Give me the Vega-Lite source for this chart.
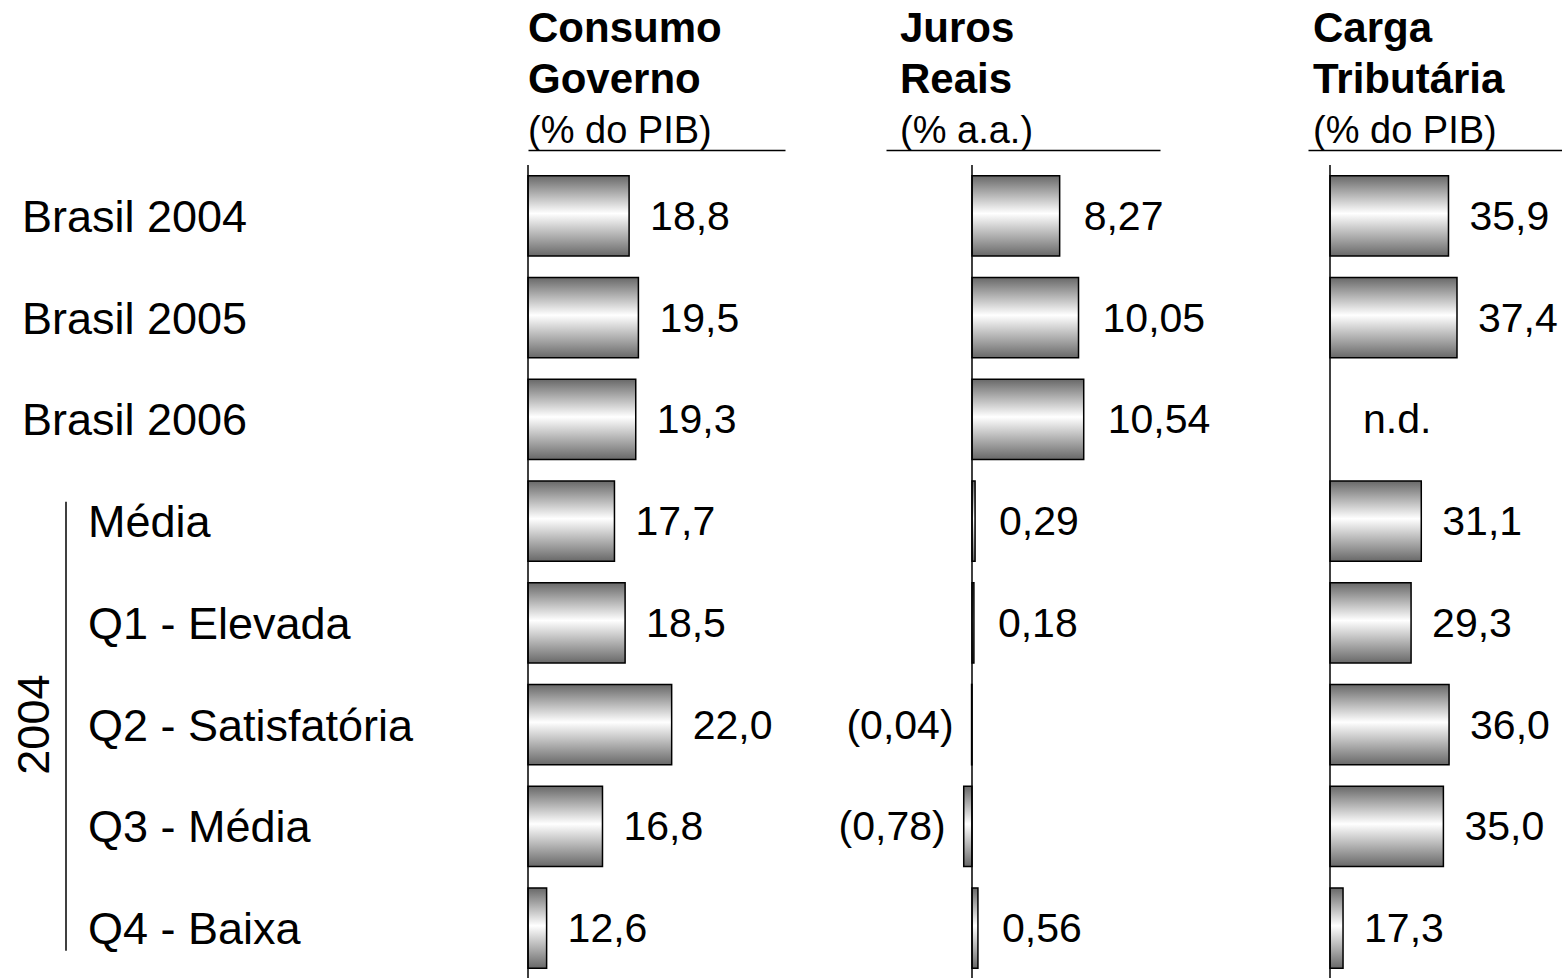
{
  "$schema": "https://vega.github.io/schema/vega-lite/v6.json",
  "background": "white",
  "padding": {"top": 8, "left": 0, "right": 0, "bottom": 0},
  "datasets": {
    "tabela": [
      {"rotulo": "Brasil 2004", "grupo": "Brasil", "consumo": 18.8, "juros": 8.27, "carga": 35.9},
      {"rotulo": "Brasil 2005", "grupo": "Brasil", "consumo": 19.5, "juros": 10.05, "carga": 37.4},
      {"rotulo": "Brasil 2006", "grupo": "Brasil", "consumo": 19.3, "juros": 10.54, "carga": null},
      {"rotulo": "Média", "grupo": "2004", "consumo": 17.7, "juros": 0.29, "carga": 31.1},
      {"rotulo": "Q1 - Elevada", "grupo": "2004", "consumo": 18.5, "juros": 0.18, "carga": 29.3},
      {"rotulo": "Q2 - Satisfatória", "grupo": "2004", "consumo": 22.0, "juros": -0.04, "carga": 36.0},
      {"rotulo": "Q3 - Média", "grupo": "2004", "consumo": 16.8, "juros": -0.78, "carga": 35.0},
      {"rotulo": "Q4 - Baixa", "grupo": "2004", "consumo": 12.6, "juros": 0.56, "carga": 17.3}
    ]
  },
  "spacing": 0,
  "bounds": "flush",
  "hconcat": [
    {
      "width": 528,
      "height": 814,
      "data": {"name": "tabela"},
      "layer": [
        {
          "transform": [{"filter": "datum.grupo === 'Brasil'"}],
          "mark": {"type": "text", "align": "left", "baseline": "middle", "fontSize": 45, "dy": 2},
          "encoding": {
            "x": {"datum": 22, "type": "quantitative", "scale": {"domain": [0, 528], "nice": false, "zero": false}, "axis": null},
            "y": {"field": "rotulo", "type": "nominal", "axis": null,
                  "scale": {"domain": ["Brasil 2004", "Brasil 2005", "Brasil 2006", "Média", "Q1 - Elevada", "Q2 - Satisfatória", "Q3 - Média", "Q4 - Baixa"], "paddingInner": 0.21, "paddingOuter": 0.105}},
            "text": {"field": "rotulo"}
          }
        },
        {
          "transform": [{"filter": "datum.grupo === '2004'"}],
          "mark": {"type": "text", "align": "left", "baseline": "middle", "fontSize": 45, "dy": 2},
          "encoding": {
            "x": {"datum": 88, "type": "quantitative"},
            "y": {"field": "rotulo", "type": "nominal"},
            "text": {"field": "rotulo"}
          }
        },
        {
          "data": {"values": [{"ano": "2004"}]},
          "mark": {"type": "rule", "stroke": "black", "strokeWidth": 1.5},
          "encoding": {
            "x": {"datum": 66, "type": "quantitative"},
            "y": {"datum": "Média", "type": "nominal", "bandPosition": 0.26},
            "y2": {"datum": "Q4 - Baixa", "bandPosition": 0.78}
          }
        },
        {
          "data": {"values": [{"ano": "2004"}]},
          "mark": {"type": "text", "angle": 270, "align": "center", "baseline": "middle", "fontSize": 45},
          "encoding": {
            "x": {"datum": 35, "type": "quantitative"},
            "y": {"datum": "Q2 - Satisfatória", "type": "nominal"},
            "text": {"field": "ano"}
          }
        }
      ]
    },
    {
      "width": 257,
      "height": 814,
      "title": {"text": ["Consumo", "Governo"], "subtitle": "(% do PIB)", "dx": 0},
      "data": {"name": "tabela"},
      "layer": [
        {
          "mark": {"type": "bar", "stroke": "black", "strokeWidth": 1.5,
                   "fill": {"gradient": "linear", "x1": 0, "y1": 0, "x2": 0, "y2": 1,
                            "stops": [{"offset": 0, "color": "#686868"}, {"offset": 0.47, "color": "#ffffff"}, {"offset": 1, "color": "#686868"}]}},
          "encoding": {
            "x": {"field": "consumo", "type": "quantitative",
                  "scale": {"domain": [11.2, 30.52], "nice": false, "zero": false},
                  "axis": {"orient": "top", "offset": 15, "labels": false, "ticks": false, "grid": false, "title": null, "domainColor": "black", "domainWidth": 1.5}},
            "x2": {"datum": 11.2},
            "y": {"field": "rotulo", "type": "nominal", "axis": null,
                  "scale": {"domain": ["Brasil 2004", "Brasil 2005", "Brasil 2006", "Média", "Q1 - Elevada", "Q2 - Satisfatória", "Q3 - Média", "Q4 - Baixa"], "paddingInner": 0.21, "paddingOuter": 0.105}}
          }
        },
        {
          "mark": {"type": "text", "align": "left", "baseline": "middle", "fontSize": 41, "dx": 21, "dy": 2},
          "encoding": {
            "x": {"field": "consumo", "type": "quantitative"},
            "y": {"field": "rotulo", "type": "nominal"},
            "text": {"field": "consumo", "type": "quantitative", "format": ".1f"}
          }
        },
        {
          "data": {"values": [{"base": 11.2}]},
          "mark": {"type": "rule", "stroke": "black", "strokeWidth": 1.5},
          "encoding": {"x": {"field": "base", "type": "quantitative"}}
        }
      ]
    },
    {
      "width": 101,
      "height": 814,
      "data": {"values": [{"vazio": ""}]},
      "mark": {"type": "text"},
      "encoding": {"text": {"field": "vazio"}}
    },
    {
      "width": 274,
      "height": 814,
      "title": {"text": ["Juros", "Reais"], "subtitle": "(% a.a.)", "dx": 14},
      "data": {"name": "tabela"},
      "layer": [
        {
          "mark": {"type": "bar", "stroke": "black", "strokeWidth": 1.5,
                   "fill": {"gradient": "linear", "x1": 0, "y1": 0, "x2": 0, "y2": 1,
                            "stops": [{"offset": 0, "color": "#686868"}, {"offset": 0.47, "color": "#ffffff"}, {"offset": 1, "color": "#686868"}]}},
          "encoding": {
            "x": {"field": "juros", "type": "quantitative",
                  "scale": {"domain": [-8.113, 17.736], "nice": false, "zero": false},
                  "axis": {"orient": "top", "offset": 15, "labels": false, "ticks": false, "grid": false, "title": null, "domainColor": "black", "domainWidth": 1.5}},
            "x2": {"datum": 0},
            "y": {"field": "rotulo", "type": "nominal", "axis": null,
                  "scale": {"domain": ["Brasil 2004", "Brasil 2005", "Brasil 2006", "Média", "Q1 - Elevada", "Q2 - Satisfatória", "Q3 - Média", "Q4 - Baixa"], "paddingInner": 0.21, "paddingOuter": 0.105}}
          }
        },
        {
          "transform": [{"filter": "datum.juros >= 0"}],
          "mark": {"type": "text", "align": "left", "baseline": "middle", "fontSize": 41, "dx": 24, "dy": 2},
          "encoding": {
            "x": {"field": "juros", "type": "quantitative"},
            "y": {"field": "rotulo", "type": "nominal"},
            "text": {"field": "juros", "type": "quantitative", "format": "(.2f"}
          }
        },
        {
          "transform": [{"filter": "datum.juros < 0"}],
          "mark": {"type": "text", "align": "right", "baseline": "middle", "fontSize": 41, "dx": -18, "dy": 2},
          "encoding": {
            "x": {"field": "juros", "type": "quantitative"},
            "y": {"field": "rotulo", "type": "nominal"},
            "text": {"field": "juros", "type": "quantitative", "format": "(.2f"}
          }
        },
        {
          "data": {"values": [{"base": 0}]},
          "mark": {"type": "rule", "stroke": "black", "strokeWidth": 1.5},
          "encoding": {"x": {"field": "base", "type": "quantitative"}}
        }
      ]
    },
    {
      "width": 148,
      "height": 814,
      "data": {"values": [{"vazio": ""}]},
      "mark": {"type": "text"},
      "encoding": {"text": {"field": "vazio"}}
    },
    {
      "width": 254,
      "height": 814,
      "title": {"text": ["Carga", "Tributária"], "subtitle": "(% do PIB)", "dx": 5},
      "data": {"name": "tabela"},
      "layer": [
        {
          "transform": [{"filter": "isValid(datum.carga)"}],
          "mark": {"type": "bar", "stroke": "black", "strokeWidth": 1.5,
                   "fill": {"gradient": "linear", "x1": 0, "y1": 0, "x2": 0, "y2": 1,
                            "stops": [{"offset": 0, "color": "#686868"}, {"offset": 0.47, "color": "#ffffff"}, {"offset": 1, "color": "#686868"}]}},
          "encoding": {
            "x": {"field": "carga", "type": "quantitative",
                  "scale": {"domain": [11.12, 55.92], "nice": false, "zero": false},
                  "axis": {"orient": "top", "offset": 15, "labels": false, "ticks": false, "grid": false, "title": null, "domainColor": "black", "domainWidth": 1.5}},
            "x2": {"datum": 15},
            "y": {"field": "rotulo", "type": "nominal", "axis": null,
                  "scale": {"domain": ["Brasil 2004", "Brasil 2005", "Brasil 2006", "Média", "Q1 - Elevada", "Q2 - Satisfatória", "Q3 - Média", "Q4 - Baixa"], "paddingInner": 0.21, "paddingOuter": 0.105}}
          }
        },
        {
          "transform": [{"filter": "isValid(datum.carga)"}],
          "mark": {"type": "text", "align": "left", "baseline": "middle", "fontSize": 41, "dx": 21, "dy": 2},
          "encoding": {
            "x": {"field": "carga", "type": "quantitative"},
            "y": {"field": "rotulo", "type": "nominal"},
            "text": {"field": "carga", "type": "quantitative", "format": ".1f"}
          }
        },
        {
          "transform": [{"filter": "!isValid(datum.carga)"}],
          "mark": {"type": "text", "align": "left", "baseline": "middle", "fontSize": 41, "dx": 33, "dy": 2},
          "encoding": {
            "x": {"datum": 15, "type": "quantitative"},
            "y": {"field": "rotulo", "type": "nominal"},
            "text": {"value": "n.d."}
          }
        },
        {
          "data": {"values": [{"base": 15}]},
          "mark": {"type": "rule", "stroke": "black", "strokeWidth": 1.5},
          "encoding": {"x": {"field": "base", "type": "quantitative"}}
        }
      ]
    }
  ],
  "config": {
    "locale": {"number": {"decimal": ",", "thousands": ".", "grouping": [3], "currency": ["R$ ", ""]}},
    "view": {"stroke": null},
    "font": "Liberation Sans",
    "text": {"font": "Liberation Sans", "color": "black"},
    "title": {
      "anchor": "start",
      "frame": "group",
      "font": "Liberation Sans",
      "fontSize": 42,
      "fontWeight": "bold",
      "color": "black",
      "lineHeight": 51,
      "subtitleFont": "Liberation Sans",
      "subtitleFontSize": 38,
      "subtitleFontWeight": "normal",
      "subtitleColor": "black",
      "subtitlePadding": 11,
      "offset": -2
    }
  }
}
